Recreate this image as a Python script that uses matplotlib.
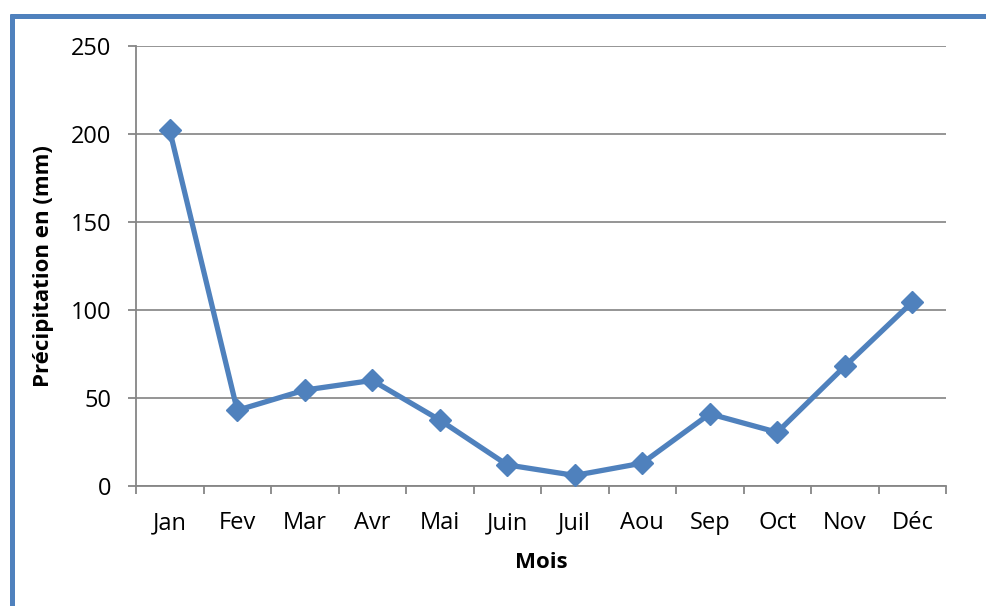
import matplotlib
matplotlib.use('Agg')
import matplotlib.pyplot as plt
from matplotlib.lines import Line2D
import numpy as np

# données
mois = ['Jan', 'Fev', 'Mar', 'Avr', 'Mai', 'Juin', 'Juil', 'Aou', 'Sep', 'Oct', 'Nov', 'Déc']
precip = [202, 43, 54.5, 60, 37.5, 12, 6, 13, 41, 30.5, 68, 104.5]

plt.rcParams['font.family'] = ['Open Sans', 'DejaVu Sans']

bleu = '#4F81BD'
gris = '#868686'

fig = plt.figure(figsize=(9.86, 6.06), dpi=100)
ax = fig.add_axes([136 / 986, 120 / 606, 810 / 986, 440 / 606])

x = np.arange(len(mois))
ax.plot(x, precip, color=bleu, lw=3.8, marker='D', ms=11, mfc=bleu, mec=bleu, zorder=3)

ax.set_xlim(-0.5, len(mois) - 0.5)
ax.set_ylim(0, 250)
ax.set_yticks(np.arange(0, 251, 50))
ax.yaxis.grid(True, color='#8c8c8c', lw=1.3)
ax.set_axisbelow(True)

# ticks x aux frontières des catégories
ax.set_xticks(np.arange(-0.5, len(mois), 1))
ax.set_xticklabels([])
ax.set_xticks(x, minor=True)
ax.set_xticklabels(mois, minor=True)
ax.tick_params(axis='x', which='major', length=6, width=1.3, color=gris, direction='out')
ax.tick_params(axis='x', which='minor', length=0, pad=18, labelsize=17)
ax.tick_params(axis='y', length=6, width=1.3, color=gris, labelsize=17, pad=12)

for s in ['top', 'right']:
    ax.spines[s].set_visible(False)
for s in ['left', 'bottom']:
    ax.spines[s].set_color(gris)
    ax.spines[s].set_linewidth(1.3)

ax.set_xlabel('Mois', fontsize=16, fontweight='bold', labelpad=12)
ax.set_ylabel('Précipitation en (mm)', fontsize=16, fontweight='bold', labelpad=12)

# cadre bleu (haut et gauche)
fig.add_artist(Line2D([10 / 986, 1.0], [1 - 16 / 606, 1 - 16 / 606], color=bleu, lw=3.6,
                      transform=fig.transFigure, solid_capstyle='butt'))
fig.add_artist(Line2D([12 / 986, 12 / 986], [0, 1 - 14 / 606], color=bleu, lw=3.6,
                      transform=fig.transFigure, solid_capstyle='butt'))

fig.savefig('out.png', dpi=100, facecolor='white')
